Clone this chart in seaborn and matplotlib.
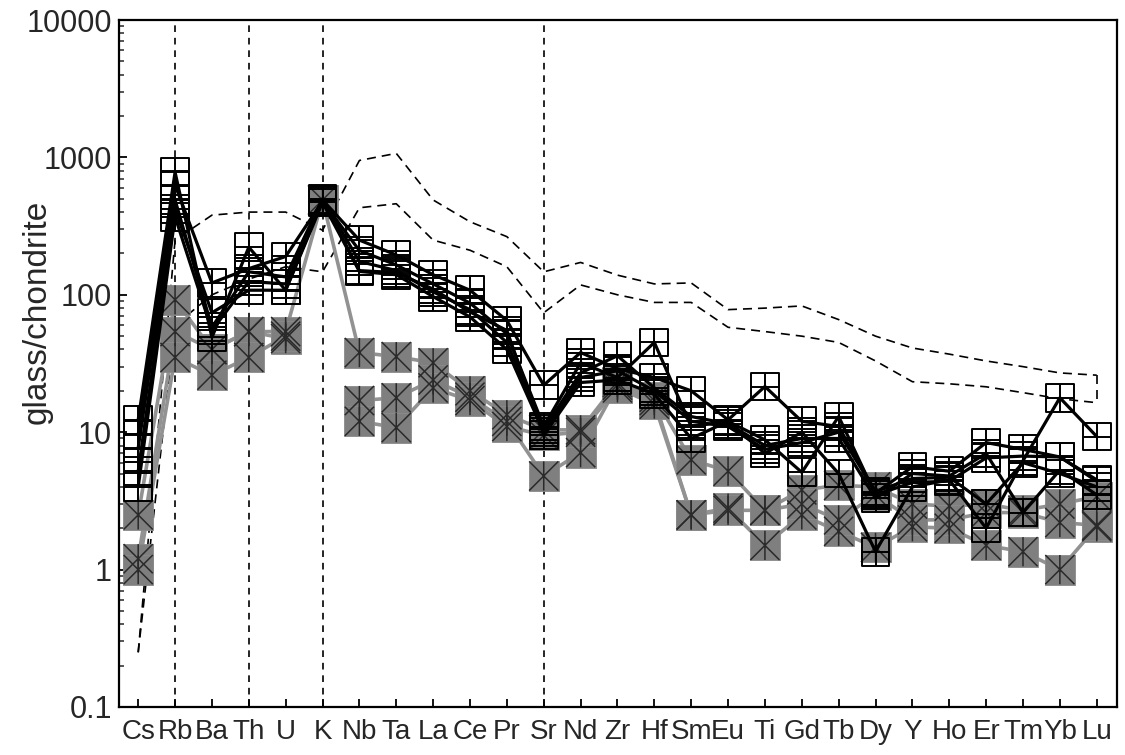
import numpy as np
import pandas as pd
import matplotlib
matplotlib.use("Agg")
import matplotlib.pyplot as plt
import seaborn as sns
from matplotlib.path import Path
from matplotlib.ticker import LogLocator, NullFormatter

nan = np.nan
elements = ['Cs', 'Rb', 'Ba', 'Th', 'U', 'K', 'Nb', 'Ta', 'La', 'Ce', 'Pr', 'Sr', 'Nd', 'Zr',
            'Hf', 'Sm', 'Eu', 'Ti', 'Gd', 'Tb', 'Dy', 'Y', 'Ho', 'Er', 'Tm', 'Yb', 'Lu']

# black series (open squares)
b1 = [12.3, 780, 49, 222, 108, 490, 250, 195, 140, 108, 65, 22, 38, 29, 25, 20, 12.3, 21.5, 12, 11, 3.6, 5.6, 5.2, 8.4, 7.5, 6.6, 4.5]
b2 = [9.6, 630, 122, 155, 190, 480, 210, 165, 120, 87, 52, 11, 32, 25, 45, 11, 12, 8.8, 5.1, 13, 3.5, 4.3, 4.4, 6.5, 6.7, 6.6, 4.4]
b3 = [7.7, 490, 58, 147, 135, 500, 175, 150, 105, 78, 45, 10.5, 27, 36, 21, 13, 11.5, 8, 9, 9, 3.3, 5.0, 4.8, 7.0, 2.6, 5.3, 3.5]
b4 = [5.2, 420, 74, 108, 108, 470, 148, 140, 97, 69, 40, 10, 25, 28, 20, 12, 11, 7.5, 8.4, 10, 3.7, 4.6, 4.7, 3.0, 6.0, 5.0, 4.0]
b5 = [4.0, 370, 55, 125, 120, 490, 150, 145, 110, 75, 55, 9.5, 23, 24, 19, 9, 12, 7, 10, 5, 1.35, 4.0, 4.5, 2.0, 6.2, 17.8, 9.3]

# grey series (filled squares with cross)
g1 = [2.5, 92, 40, 54, 54, 490, 38, 35.5, 32, 20, 13.4, 10.4, 10.4, 23, 18, 6.3, 5.2, 2.7, 3.8, 4.1, 4.0, 3.0, 2.9, 3.0, 2.7, 3.0, 3.4]
g2 = [1.2, 54, 40, 54, 48, nan, 17, 17.8, 24, 18, 12, 4.8, 7.1, 22, 17, 2.5, 2.8, 1.5, 2.5, 1.9, 1.45, 2.05, 2.0, 1.5, 1.35, 1.0, 2.05]
g3 = [1.0, 35, 26, 35, 50, nan, 12, 10.8, 21, 17, 11, 9.5, 10, 21, 16, 2.5, 2.7, 2.7, 3.0, 2.3, 3.5, 2.3, 2.3, 2.6, 2.6, 2.2, 2.1]

# dashed envelope
env_upper = [0.25, 250, 380, 400, 400, 295, 950, 1070, 490, 340, 265, 147, 172, 139, 120, 122, 78, 80, 83, 66, 50, 41, 37, 33, 30, 27, 26]
env_lower = [0.25, 60, 100, 130, 160, 147, 430, 460, 250, 211, 160, 74, 118, 100, 88, 88, 58, 54, 50, 45, 33, 23.3, 22.5, 21.4, 19.4, 17.5, 16.4]

vlines_at = ['Rb', 'Th', 'K', 'Sr']
ytick_vals = [0.1, 1, 10, 100, 1000, 10000]
ytick_labels = ['0.1', '1', '10', '100', '1000', '10000']


def long_df(series):
    rows = []
    for name, vals in series.items():
        seg = 0
        for i, v in enumerate(vals):
            if np.isnan(v):
                seg += 1
                continue
            rows.append(dict(series=name, unit=f"{name}_{seg}", pos=i, value=v))
    return pd.DataFrame(rows)


black_df = long_df({'b1': b1, 'b2': b2, 'b3': b3, 'b4': b4, 'b5': b5})
grey_df = long_df({'g1': g1, 'g2': g2, 'g3': g3})
env_df = long_df({'upper': env_upper, 'lower': env_lower})

sns.set_style("ticks")
plt.rcParams['font.family'] = ['Liberation Sans', 'DejaVu Sans']

fig = plt.figure(figsize=(11.25, 7.55), dpi=100)
ax = fig.add_axes([0.1058, 0.0636, 0.8871, 0.9099])
ax.set_yscale('log')

# markers
sq_plus = Path([(-0.5, -0.5), (0.5, -0.5), (0.5, 0.5), (-0.5, 0.5), (-0.5, -0.5),
                (0, -0.5), (0, 0.5), (-0.5, 0), (0.5, 0)],
               [Path.MOVETO, Path.LINETO, Path.LINETO, Path.LINETO, Path.CLOSEPOLY,
                Path.MOVETO, Path.LINETO, Path.MOVETO, Path.LINETO])
x_bar = Path([(-0.5, -0.5), (0.5, 0.5), (-0.5, 0.5), (0.5, -0.5), (0, -0.5), (0, 0.5)],
             [Path.MOVETO, Path.LINETO, Path.MOVETO, Path.LINETO, Path.MOVETO, Path.LINETO])

# reference vertical lines
for el in vlines_at:
    ax.axvline(elements.index(el), color='black', lw=1.2, ls=(0, (4, 3.5)), zorder=1)

# envelope
sns.lineplot(data=env_df, x='pos', y='value', units='unit', estimator=None, sort=False,
             color='black', lw=1.2, ls=(0, (5.4, 3.6)), ax=ax, legend=False, zorder=1.5)
lu = len(elements) - 1
close_df = pd.DataFrame({'pos': [lu, lu], 'value': [env_upper[-1], env_lower[-1]]})
sns.lineplot(data=close_df, x='pos', y='value', estimator=None, sort=False, color='black',
             lw=1.2, ls=(0, (5.4, 3.6)), ax=ax, legend=False, zorder=1.5)

# grey series
sns.lineplot(data=grey_df, x='pos', y='value', units='unit', estimator=None, sort=False,
             color='#929292', lw=2.6, ax=ax, legend=False, zorder=2)
sns.scatterplot(data=grey_df, x='pos', y='value', marker='s', s=21 ** 2, color='#7f7f7f',
                edgecolor='#8a8a8a', linewidth=0.6, ax=ax, legend=False, zorder=3)
sns.scatterplot(data=grey_df, x='pos', y='value', marker=x_bar, s=21 ** 2, color='#2a2a2a',
                facecolor='none', edgecolor='#2a2a2a', linewidth=1.1, ax=ax, legend=False, zorder=3.1)

# black series
sns.lineplot(data=black_df, x='pos', y='value', units='unit', estimator=None, sort=False,
             color='black', lw=2.3, ax=ax, legend=False, zorder=4)
sns.scatterplot(data=black_df, x='pos', y='value', marker=sq_plus, s=20 ** 2, color='black',
                facecolor='none', edgecolor='black', linewidth=1.4, ax=ax, legend=False, zorder=5)

ax.set_xlim(-0.52, 26.55)
ax.set_ylim(0.1, 10000)
ax.set_xticks(range(len(elements)))
ax.set_xticklabels(elements, fontsize=20)
ax.set_yticks(ytick_vals)
ax.set_yticklabels(ytick_labels, fontsize=22)
ax.yaxis.set_minor_locator(LogLocator(base=10, subs=np.arange(2, 10)))
ax.yaxis.set_minor_formatter(NullFormatter())
ax.tick_params(axis='both', which='major', direction='in', length=6, width=1.3, color='black')
ax.tick_params(axis='y', which='minor', direction='in', length=3.5, width=1.1)
ax.tick_params(axis='x', pad=9)
ax.tick_params(axis='y', pad=5)
for sp in ax.spines.values():
    sp.set_linewidth(1.6)
    sp.set_color('black')

ax.set_xlabel('')
ax.set_ylabel('glass/chondrite', fontsize=24)
ax.yaxis.label.set_va('center')
ax.yaxis.set_label_coords(-0.082, 0.575)

fig.savefig('out.png', dpi=100, facecolor='white')
